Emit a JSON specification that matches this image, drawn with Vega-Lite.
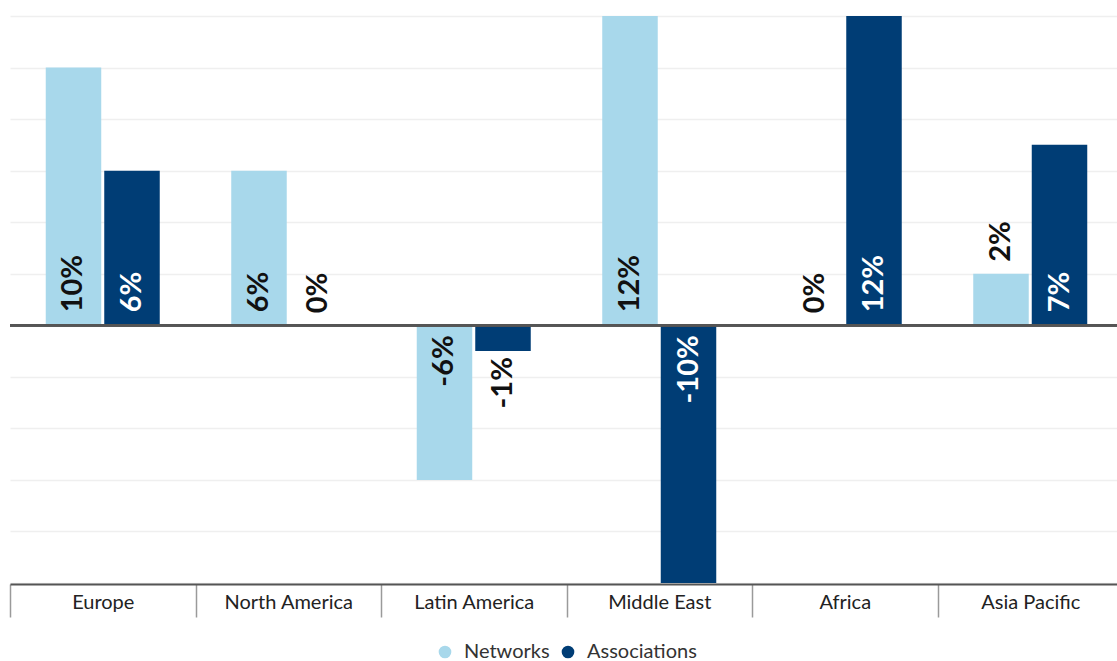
{
  "$schema": "https://vega.github.io/schema/vega-lite/v6.json",
  "autosize": "none",
  "padding": {"left": 10, "top": 16, "right": 0, "bottom": 78},
  "width": 1113,
  "height": 567,
  "config": {"view": {"stroke": null}, "font": "Lato"},
  "data": {"values": [
    {"region": "Europe", "series": "Networks", "value": 10},
    {"region": "Europe", "series": "Associations", "value": 6},
    {"region": "North America", "series": "Networks", "value": 6},
    {"region": "North America", "series": "Associations", "value": 0},
    {"region": "Latin America", "series": "Networks", "value": -6},
    {"region": "Latin America", "series": "Associations", "value": -1},
    {"region": "Middle East", "series": "Networks", "value": 12},
    {"region": "Middle East", "series": "Associations", "value": -10},
    {"region": "Africa", "series": "Networks", "value": 0},
    {"region": "Africa", "series": "Associations", "value": 12},
    {"region": "Asia Pacific", "series": "Networks", "value": 2},
    {"region": "Asia Pacific", "series": "Associations", "value": 7}
  ]},
  "transform": [{"calculate": "datum.value + '%'", "as": "label"}],
  "encoding": {
    "x": {
      "field": "region", "type": "nominal",
      "sort": ["Europe", "North America", "Latin America", "Middle East", "Africa", "Asia Pacific"],
      "scale": {"paddingInner": 0, "paddingOuter": 0},
      "axis": {
        "title": null, "labelAngle": 0, "orient": "bottom",
        "domainColor": "#555555", "domainWidth": 2,
        "tickColor": "#9a9a9a", "tickWidth": 1.5, "tickSize": 33, "tickBand": "extent",
        "labelPadding": -25, "labelFontSize": 20, "labelColor": "#222222", "labelFont": "Lato",
        "offset": 1
      }
    },
    "xOffset": {
      "field": "series", "type": "nominal",
      "sort": ["Networks", "Associations"],
      "scale": {"paddingInner": 0.0513, "paddingOuter": 0.611}
    }
  },
  "layer": [
    {
      "mark": {"type": "bar"},
      "encoding": {
        "y": {
          "field": "value", "type": "quantitative",
          "scale": {"domain": [-10, 12], "nice": false},
          "axis": {"title": null, "labels": false, "ticks": false, "domain": false, "grid": true,
                   "gridColor": "#efefef", "gridWidth": 1.5, "values": [-10, -8, -6, -4, -2, 0, 2, 4, 6, 8, 10, 12]}
        },
        "color": {
          "field": "series", "type": "nominal",
          "scale": {"domain": ["Networks", "Associations"], "range": ["#a8d8eb", "#003d75"]},
          "legend": {
            "title": null, "orient": "none", "direction": "horizontal",
            "legendX": 425, "legendY": 626, "padding": 0,
            "symbolType": "circle", "symbolSize": 160, "symbolStrokeWidth": 0,
            "labelFontSize": 20, "labelColor": "#333333", "labelFont": "Lato",
            "columnPadding": 8, "symbolOffset": 0, "labelOffset": 9
          }
        }
      }
    },
    {
      "mark": {"type": "rule", "color": "#555555", "strokeWidth": 2},
      "encoding": {"y": {"datum": 0, "type": "quantitative"}, "x": null, "xOffset": null}
    },
    {
      "transform": [{"filter": "datum.value >= 3"}],
      "mark": {"type": "text", "angle": 270, "align": "left", "baseline": "middle", "dx": 13, "fontSize": 29, "fontWeight": "bold", "font": "Lato"},
      "encoding": {
        "y": {"datum": 0, "type": "quantitative"},
        "text": {"field": "label"},
        "color": {"condition": {"test": "datum.series === 'Associations'", "value": "#ffffff"}, "value": "#111111"}
      }
    },
    {
      "transform": [{"filter": "datum.value <= -3"}],
      "mark": {"type": "text", "angle": 270, "align": "right", "baseline": "middle", "dx": -10, "fontSize": 29, "fontWeight": "bold", "font": "Lato"},
      "encoding": {
        "y": {"datum": 0, "type": "quantitative"},
        "text": {"field": "label"},
        "color": {"condition": {"test": "datum.series === 'Associations'", "value": "#ffffff"}, "value": "#111111"}
      }
    },
    {
      "transform": [{"filter": "datum.value >= 0 && datum.value < 3"}],
      "mark": {"type": "text", "angle": 270, "align": "left", "baseline": "middle", "dx": 12, "fontSize": 29, "fontWeight": "bold", "font": "Lato", "color": "#111111"},
      "encoding": {
        "y": {"field": "value", "type": "quantitative"},
        "text": {"field": "label"}
      }
    },
    {
      "transform": [{"filter": "datum.value < 0 && datum.value > -3"}],
      "mark": {"type": "text", "angle": 270, "align": "right", "baseline": "middle", "dx": -6, "fontSize": 29, "fontWeight": "bold", "font": "Lato", "color": "#111111"},
      "encoding": {
        "y": {"field": "value", "type": "quantitative"},
        "text": {"field": "label"}
      }
    }
  ]
}
